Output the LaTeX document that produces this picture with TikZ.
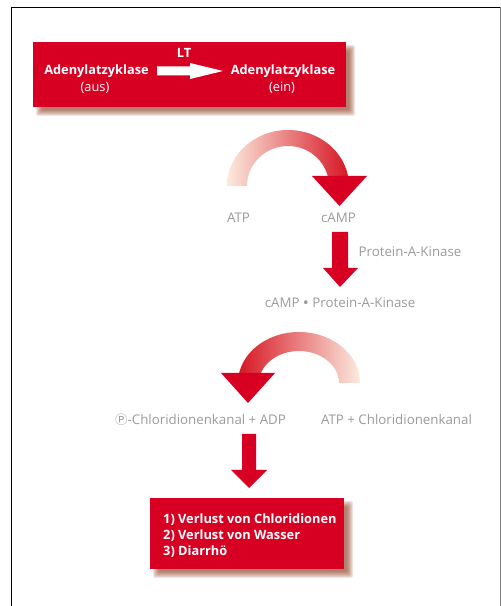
\documentclass[tikz,border=0pt]{standalone}
\usepackage{fontspec}
\usetikzlibrary{calc}
\setmainfont{Open Sans}
\newfontfamily\symfont{Noto Sans CJK SC}
\definecolor{boxred}{RGB}{215,0,35}
\definecolor{labgray}{RGB}{155,155,155}
\definecolor{shadowc}{RGB}{140,55,25}
\definecolor{pale}{RGB}{252,234,222}
\definecolor{salmon}{RGB}{233,105,72}
\definecolor{arcred}{RGB}{214,22,35}
\begin{document}
\begin{tikzpicture}[x=1pt,y=1pt,
  lab/.style={text=labgray, font=\fontsize{13.3}{16}\selectfont, inner sep=0},
  wtext/.style={text=white, font=\bfseries\fontsize{12.8}{16}\selectfont, inner sep=0},
  wreg/.style={text=white, font=\fontsize{12.8}{16}\selectfont, inner sep=0},
  redbox/.style={fill=boxred, draw=none, inner sep=0},
  redarrow/.style={fill=boxred, draw=none}]
\useasboundingbox (0,0) rectangle (501,606);
\fill[white] (0,0) rectangle (501,606);
% frame
\draw[black, line width=1.2pt] (11.5,0) -- (11.5,598.5) -- (500,598.5);
\draw[gray, line width=1pt] (500,598.5) -- (500,0);

% shadows
\foreach \e in {-3,-2,...,3} {
  \fill[shadowc, opacity=0.13, rounded corners=2pt] (39-\e,493-\e) rectangle (352+\e,558+\e);
  \fill[shadowc, opacity=0.13, rounded corners=2pt] (156-\e,31-\e) rectangle (350+\e,102+\e);
}

% box 1
\node[redbox, minimum width=313, minimum height=65] (box1) at (189.5,531.5) {};
\node[wtext] (ac1) at (96.5,535) {Adenylatzyklase};
\node[wreg] (aus) at (95,518) {(aus)};
\node[wtext] (ac2) at (283,535) {Adenylatzyklase};
\node[wreg] (ein) at (282,518) {(ein)};
\node[wtext] (lt) at (184,553) {LT};
\coordinate (wa) at (157,535);
\coordinate (wb) at (223,535);
\fill[white] ($(wa)+(0,-4.5)$) -- ++(33,0) -- ++(0,-3.5) -- (wb) -- ++(-33,8) -- ++(0,-3.5) -- ($(wa)+(0,4.5)$) -- cycle;

% arc 1 ATP -> cAMP
\shade[left color=pale, middle color=salmon, right color=arcred]
  (227,420) arc[start angle=180, end angle=0, x radius=61, y radius=56]
  -- (329,420) arc[start angle=0, end angle=180, x radius=41, y radius=40] -- cycle;
\fill[boxred] (312,430) -- (367,430) -- (339.5,400) -- cycle;
\node[lab] (atp) at (238.5,388) {ATP};
\node[lab] (camp) at (338.5,388) {cAMP};

% arrow 2
\fill[boxred] (332,374) -- (348,374) -- (348,338) -- (358,338) -- (340,319) -- (323,338) -- (332,338) -- cycle;
\node[lab] (pak) at (410,354) {Protein-A-Kinase};
\node[lab] (cpak) at (340,303) {cAMP {\fontsize{16}{16}\selectfont\raisebox{-0.5pt}{•}} Protein-A-Kinase};

% arc 2
\shade[left color=arcred, middle color=salmon, right color=pale]
  (238,223) arc[start angle=180, end angle=0, x radius=61, y radius=51]
  -- (339,223) arc[start angle=0, end angle=180, x radius=40, y radius=32] -- cycle;
\fill[boxred] (221,233) -- (275,233) -- (248,203) -- cycle;
\node[lab] (pch) at (200.5,186) {{\symfont\fontsize{12.5}{12}\selectfont Ⓟ}-Chloridionenkanal + ADP};
\node[lab] (atpch) at (396.5,186) {ATP + Chloridionenkanal};

% arrow 3
\fill[boxred] (242,172) -- (256,172) -- (256,136) -- (267,136) -- (249,118) -- (231,136) -- (242,136) -- cycle;

% box 2
\node[redbox, minimum width=194, minimum height=71] (box2) at (247,72.5) {};
\node[wtext, align=left, anchor=west] (res) at (163,70) {1) Verlust von Chloridionen\\2) Verlust von Wasser\\3) Diarrhö};
\end{tikzpicture}
\end{document}
